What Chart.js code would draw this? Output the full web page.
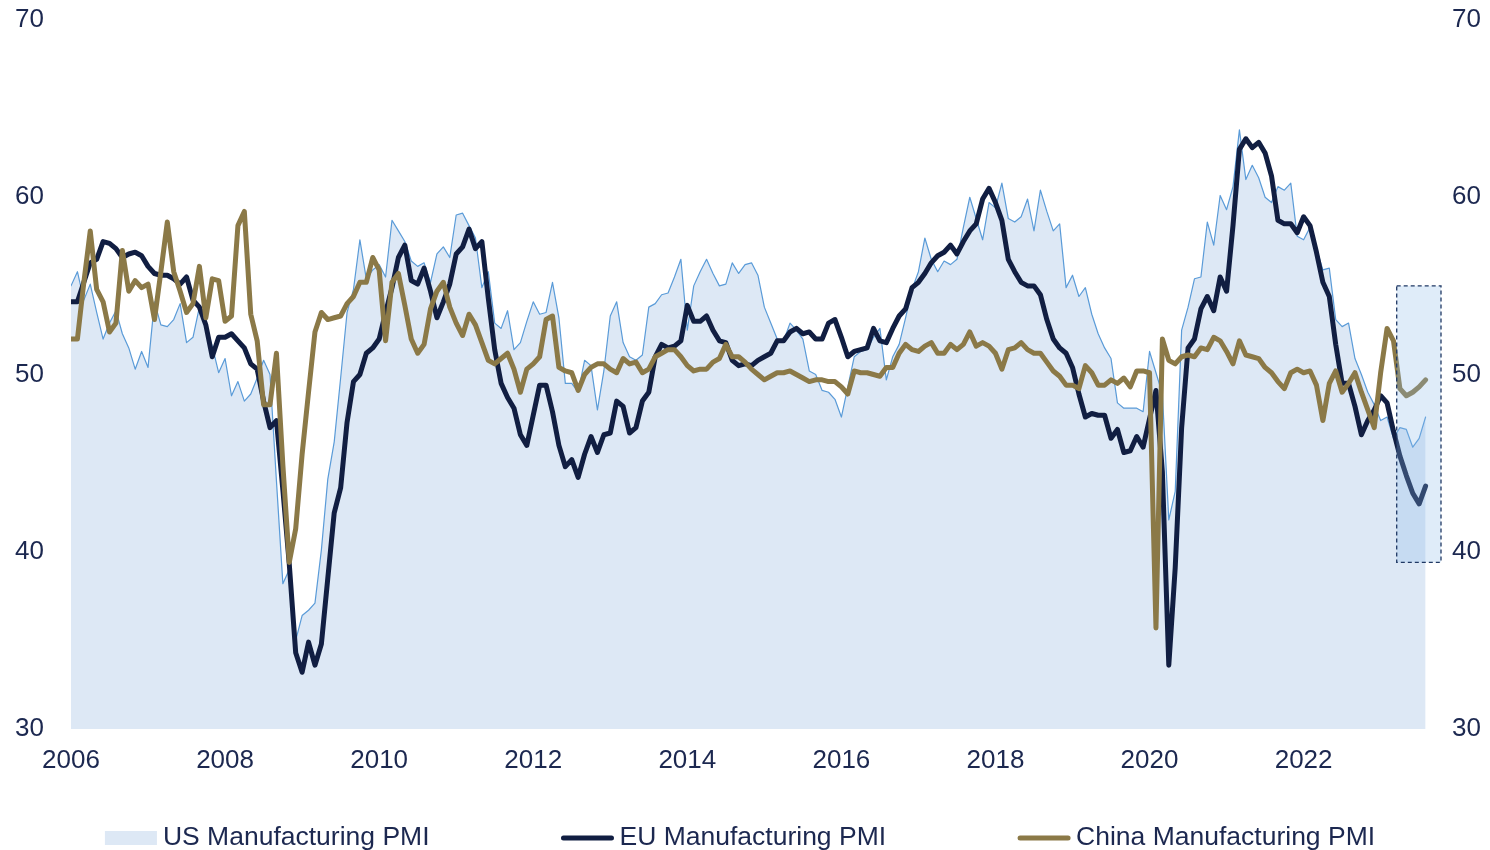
<!DOCTYPE html>
<html>
<head>
<meta charset="utf-8">
<title>Manufacturing PMI</title>
<script src="https://cdn.jsdelivr.net/npm/chart.js@4.4.1/dist/chart.umd.min.js"></script>
<style>
    html, body { margin: 0; padding: 0; background: #ffffff; }
    #chart { display: block; }
</style>
</head>
<body>
<canvas id="chart" width="1490" height="850"></canvas>
<script>
// Datos mensuales desde ene-2006 hasta ago-2023 (índice 0 = ene-2006)
const tickYears = ['2006', '2008', '2010', '2012', '2014', '2016', '2018', '2020', '2022'];
const yTicks = [30, 40, 50, 60, 70];
const seriesNames = ['US Manufacturing PMI', 'EU Manufacturing PMI', 'China Manufacturing PMI'];

const usPmi = [
    55.0, 55.8, 54.2, 55.1, 53.5, 52.0, 52.9, 53.6, 52.3, 51.5, 50.3, 51.3,
    50.4, 54.1, 52.8, 52.7, 53.1, 54.0, 51.8, 52.1, 53.8, 52.8, 51.6, 50.1,
    50.9, 48.8, 49.6, 48.5, 48.9, 49.8, 50.8, 50.0, 44.0, 38.2, 39.0, 35.0,
    36.4, 36.7, 37.1, 40.1, 44.1, 46.2, 49.8, 53.5, 54.8, 57.6, 55.4, 55.9,
    56.2, 55.5, 58.7, 58.1, 57.5, 56.4, 56.1, 56.3, 55.2, 56.8, 57.2, 56.6,
    59.0, 59.1, 58.4, 57.7, 54.9, 55.8, 52.9, 52.6, 53.6, 51.4, 51.8, 53.0,
    54.1, 53.4, 53.5, 55.2, 53.2, 49.5, 49.5, 49.0, 50.8, 50.5, 48.0, 50.2,
    53.3, 54.1, 51.8, 51.0, 50.8, 51.1, 53.8, 54.0, 54.5, 54.6, 55.5, 56.5,
    52.5, 55.0, 55.8, 56.5, 55.7, 55.0, 55.1, 56.3, 55.7, 56.2, 56.3, 55.6,
    53.8, 52.9, 52.0, 51.9, 52.9, 52.5, 52.0, 50.2, 50.0, 49.1, 49.0, 48.6,
    47.6, 49.3, 51.0, 51.3, 51.4, 52.1, 52.6, 49.7, 51.0, 51.7, 53.2, 54.8,
    55.8, 57.7, 56.5, 55.8, 56.4, 56.2, 56.5, 58.3, 60.0, 58.8, 57.6, 59.7,
    59.4, 60.8, 58.8, 58.6, 58.9, 59.9, 58.1, 60.4, 59.2, 58.1, 58.5, 54.9,
    55.6, 54.4, 54.9, 53.4, 52.3, 51.5, 50.9, 48.4, 48.1, 48.1, 48.1, 47.9,
    51.3, 50.1, 48.9, 41.8, 43.4, 52.5, 53.8, 55.4, 55.5, 58.6, 57.3, 60.1,
    59.3, 60.6, 63.8, 61.0, 61.8, 61.1, 60.0, 59.7, 60.6, 60.4, 60.8, 57.8,
    57.6, 58.3, 57.1, 55.9, 56.0, 53.1, 52.7, 52.9, 50.9, 50.0, 49.0, 48.3,
    47.4, 47.6, 46.4, 47.0, 46.9, 45.9, 46.4, 47.6
];

const euPmi = [
    54.1, 54.1, 55.2, 56.3, 56.5, 57.5, 57.4, 57.1, 56.6, 56.8, 56.9, 56.7,
    56.1, 55.7, 55.6, 55.6, 55.4, 55.1, 55.5, 54.2, 53.8, 52.8, 51.0, 52.1,
    52.1, 52.3, 51.9, 51.5, 50.6, 50.3, 48.5, 47.0, 47.4, 43.5, 39.3, 34.3,
    33.2, 34.9, 33.6, 34.8, 38.5, 42.2, 43.6, 47.3, 49.6, 50.0, 51.2, 51.5,
    52.0, 53.5, 54.9, 56.6, 57.3, 55.3, 55.1, 56.0, 54.7, 53.2, 54.1, 55.1,
    56.8, 57.2, 58.2, 57.1, 57.5, 54.3, 51.4, 49.5, 48.7, 48.1, 46.6, 46.0,
    47.7, 49.4, 49.4, 47.9, 46.0, 44.8, 45.2, 44.2, 45.5, 46.5, 45.6, 46.6,
    46.7, 48.5, 48.2, 46.7, 47.0, 48.5, 49.0, 51.0, 51.7, 51.5, 51.6, 51.9,
    53.9, 53.0, 53.0, 53.3, 52.5, 51.9, 51.8, 50.8, 50.5, 50.6, 50.5, 50.8,
    51.0, 51.2, 51.9, 51.9, 52.4, 52.6, 52.3, 52.4, 52.0, 52.0, 52.9, 53.1,
    52.1, 51.0, 51.3, 51.4, 51.5, 52.6, 51.9, 51.8, 52.6, 53.3, 53.7, 54.9,
    55.2, 55.7, 56.3, 56.7, 56.9, 57.3, 56.8, 57.5, 58.1, 58.5, 59.9, 60.5,
    59.7, 58.7, 56.5, 55.8, 55.2, 55.0, 55.0, 54.5, 53.1, 52.0, 51.5, 51.2,
    50.4, 48.9, 47.6, 47.8, 47.7, 47.7, 46.4, 46.9, 45.6, 45.7, 46.5, 45.9,
    47.5, 49.1, 44.5, 33.6, 39.1, 47.0, 51.5, 52.0, 53.7, 54.4, 53.6, 55.5,
    54.7, 58.4, 62.7, 63.3, 62.8, 63.1, 62.5, 61.2, 58.7, 58.5, 58.5, 58.0,
    58.9, 58.4, 56.9, 55.2, 54.4, 51.7, 49.5, 49.5, 48.2, 46.6, 47.4, 48.0,
    48.8, 48.4, 46.8, 45.4, 44.3, 43.3, 42.7, 43.7
];

const chinaPmi = [
    52.0, 52.0, 55.2, 58.1, 54.8, 54.1, 52.4, 52.9, 57.0, 54.7, 55.3, 54.9,
    55.1, 53.1, 55.8, 58.6, 55.8, 54.7, 53.5, 54.0, 56.1, 53.2, 55.4, 55.3,
    53.0, 53.3, 58.4, 59.2, 53.4, 51.9, 48.3, 48.3, 51.2, 44.9, 39.4, 41.3,
    45.5, 49.0, 52.4, 53.5, 53.1, 53.2, 53.3, 54.0, 54.4, 55.2, 55.2, 56.6,
    55.9, 51.9, 55.2, 55.7, 53.9, 52.0, 51.2, 51.7, 53.7, 54.7, 55.2, 53.8,
    52.9, 52.2, 53.4, 52.8, 51.8, 50.8, 50.6, 50.9, 51.2, 50.3, 49.0, 50.3,
    50.6, 51.0, 53.1, 53.3, 50.4, 50.2, 50.1, 49.1, 50.0, 50.4, 50.6, 50.6,
    50.3, 50.1, 50.9, 50.6, 50.7, 50.1, 50.3, 51.0, 51.2, 51.4, 51.4, 51.0,
    50.5, 50.2, 50.3, 50.3, 50.7, 50.9, 51.7, 51.0, 51.0, 50.7, 50.3, 50.0,
    49.7, 49.9, 50.1, 50.1, 50.2, 50.0, 49.8, 49.6, 49.7, 49.7, 49.6, 49.6,
    49.3, 48.9, 50.2, 50.1, 50.1, 50.0, 49.9, 50.4, 50.4, 51.2, 51.7, 51.4,
    51.3, 51.6, 51.8, 51.2, 51.2, 51.7, 51.4, 51.7, 52.4, 51.6, 51.8, 51.6,
    51.2, 50.3, 51.4, 51.5, 51.8, 51.4, 51.2, 51.2, 50.7, 50.2, 49.9, 49.4,
    49.4, 49.2, 50.5, 50.1, 49.4, 49.4, 49.7, 49.5, 49.8, 49.3, 50.2, 50.2,
    50.1, 35.7, 52.0, 50.8, 50.6, 51.0, 51.1, 51.0, 51.5, 51.4, 52.1, 51.9,
    51.3, 50.6, 51.9, 51.1, 51.0, 50.9, 50.4, 50.1, 49.6, 49.2, 50.1, 50.3,
    50.1, 50.2, 49.4, 47.4, 49.5, 50.2, 49.0, 49.5, 50.1, 49.0, 48.0, 47.0,
    50.1, 52.6, 51.9, 49.2, 48.8, 49.0, 49.3, 49.7
];

// Recuadro resaltado (en meses desde ene-2006 y valores PMI)
const highlight = { from: 206.5, to: 213.4, low: 39.4, high: 55 };

const textColor = '#1c2850';
const fontFamily = '"Liberation Sans", Arial, sans-serif';

const toPoints = arr => arr.map((v, i) => ({ x: i, y: v }));

// Dibuja el recuadro punteado sobre los últimos meses
const highlightPlugin = {
    id: 'highlightBox',
    afterDatasetsDraw(chart) {
        const { ctx, scales: { x, y } } = chart;
        const left = x.getPixelForValue(highlight.from);
        const right = x.getPixelForValue(highlight.to);
        const top = y.getPixelForValue(highlight.high);
        const bottom = y.getPixelForValue(highlight.low);
        ctx.save();
        ctx.fillStyle = 'rgba(140, 185, 235, 0.28)';
        ctx.fillRect(left, top, right - left, bottom - top);
        ctx.setLineDash([4, 3]);
        ctx.lineWidth = 1.3;
        ctx.strokeStyle = '#1f3864';
        ctx.strokeRect(left, top, right - left, bottom - top);
        ctx.restore();
    }
};

// Leyenda propia con separación amplia entre elementos
const legendPlugin = {
    id: 'wideLegend',
    afterDraw(chart) {
        const { ctx } = chart;
        const markerW = 52, gap = 6, spacing = 132;
        const cy = chart.height - 12;
        ctx.save();
        ctx.font = '26.5px ' + fontFamily;
        ctx.textBaseline = 'middle';
        const widths = seriesNames.map(n => markerW + gap + ctx.measureText(n).width);
        const total = widths.reduce((a, b) => a + b, 0) + spacing * (widths.length - 1);
        let x = (chart.width - total) / 2 - 5;
        chart.data.datasets.forEach((ds, i) => {
            if (ds.fill) {
                ctx.fillStyle = ds.backgroundColor;
                ctx.fillRect(x, cy - 7, markerW, 14);
            } else {
                ctx.beginPath();
                ctx.lineCap = 'round';
                ctx.lineWidth = ds.borderWidth;
                ctx.strokeStyle = ds.borderColor;
                ctx.moveTo(x + 2, cy);
                ctx.lineTo(x + markerW - 2, cy);
                ctx.stroke();
            }
            ctx.fillStyle = textColor;
            ctx.fillText(seriesNames[i], x + markerW + gap, cy);
            x += widths[i] + spacing;
        });
        ctx.restore();
    }
};

const tickFont = { family: fontFamily, size: 26 };

// Ancho fijo del eje y margen superior de 20 px
const fitY = width => s => {
    s.width = width;
    s.paddingTop = 20;
    s.paddingBottom = 0;
};

new Chart(document.getElementById('chart').getContext('2d'), {
    type: 'line',
    data: {
        datasets: [{
            label: seriesNames[0],
            data: toPoints(usPmi),
            borderColor: '#5a9bd8',
            borderWidth: 1.2,
            backgroundColor: '#dde8f5',
            fill: 'start',
            order: 3
        }, {
            label: seriesNames[1],
            data: toPoints(euPmi),
            borderColor: '#111e42',
            borderWidth: 5,
            fill: false,
            order: 2
        }, {
            label: seriesNames[2],
            data: toPoints(chinaPmi),
            borderColor: '#8b7947',
            borderWidth: 5,
            fill: false,
            order: 1
        }]
    },
    options: {
        responsive: false,
        animation: false,
        devicePixelRatio: 1,
        parsing: false,
        layout: { padding: 0 },
        elements: {
            point: { radius: 0, hoverRadius: 0 },
            line: { tension: 0, borderJoinStyle: 'round', borderCapStyle: 'round' }
        },
        plugins: {
            legend: { display: false },
            tooltip: { enabled: false }
        },
        scales: {
            x: {
                type: 'linear',
                min: 0,
                max: 213.4,
                grid: { display: false, drawTicks: false },
                border: { display: false },
                ticks: {
                    stepSize: 24,
                    padding: 16,
                    color: textColor,
                    font: tickFont,
                    maxRotation: 0,
                    autoSkip: false,
                    callback: v => tickYears[v / 24]
                },
                afterFit: s => { s.height = 121; }
            },
            y: {
                position: 'left',
                min: 30,
                max: 70,
                grid: { display: false, drawTicks: false },
                border: { display: false },
                afterBuildTicks: s => { s.ticks = yTicks.map(v => ({ value: v })); },
                ticks: { padding: 27, color: textColor, font: tickFont },
                afterFit: fitY(71)
            },
            y2: {
                position: 'right',
                min: 30,
                max: 70,
                grid: { display: false, drawTicks: false },
                border: { display: false },
                afterBuildTicks: s => { s.ticks = yTicks.map(v => ({ value: v })); },
                ticks: { padding: 11, color: textColor, font: tickFont },
                afterFit: fitY(49)
            }
        }
    },
    plugins: [highlightPlugin, legendPlugin]
});
</script>
</body>
</html>
